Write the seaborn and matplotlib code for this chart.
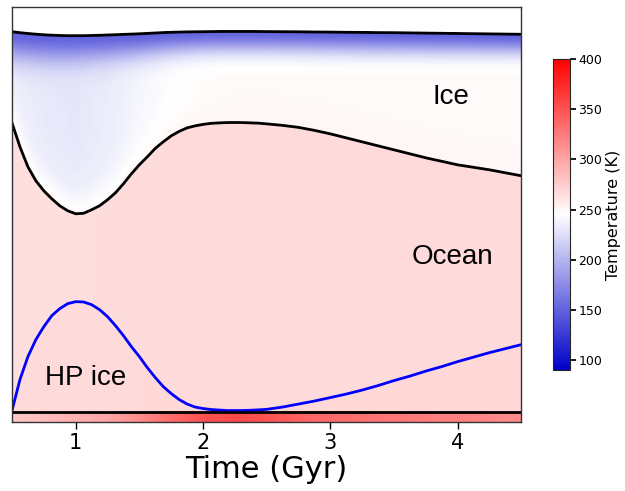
import numpy as np
import matplotlib
matplotlib.use("Agg")
import matplotlib.pyplot as plt
from matplotlib.colors import LinearSegmentedColormap
import seaborn as sns

# ---- boundaries (km, height above lower axis edge) ----
time = [0.5, 0.5625, 0.625, 0.6875, 0.75, 0.8125, 0.875, 0.9375, 1.0, 1.0625,
        1.125, 1.1875, 1.25, 1.3125, 1.375, 1.4375, 1.5, 1.5625, 1.625, 1.6875,
        1.75, 1.8125, 1.875, 1.9375, 2.0, 2.0625, 2.125, 2.1875, 2.25, 2.3125,
        2.375, 2.4375, 2.5,
        2.625, 2.75, 2.875, 3.0, 3.125, 3.25, 3.375, 3.5, 3.625, 3.75, 3.875,
        4.0, 4.125, 4.25, 4.375, 4.5]
surface_km = [780.6, 778.6, 777, 775.6, 774.4, 773.6, 773, 772.6, 772.6, 772.6,
              773, 773.4, 774, 774.6, 775.2, 775.8, 776.4, 777.2, 778, 778.8,
              779.4, 779.8, 780.2, 780.4, 780.6, 780.8, 781, 781, 781, 781,
              781, 781, 780.8,
              780.6, 780.4, 780, 779.8, 779.4, 779.2, 778.8, 778.6, 778.2, 777.8, 777.4,
              777, 776.6, 776.2, 775.8, 775.4]
ice_base_km = [598, 550, 510, 482, 462, 446, 432, 422, 416, 417,
               424, 432, 444, 458, 476, 496, 514, 530, 547, 560,
               572, 581, 588, 592, 595, 597, 598, 598.6, 598.8, 598.6,
               598, 597.4, 596,
               593, 589, 583, 576, 568, 560, 552, 544, 536, 528, 521,
               514, 509, 504, 498, 492]
hp_top_km = [22, 84, 130, 164, 190, 212, 226, 236, 240, 239.4,
             234, 224, 210, 192, 172, 150, 130, 108, 88, 70,
             56, 44, 35, 29, 26, 24, 23, 22, 22, 22,
             22.6, 23.4, 24.4,
             29, 35, 41, 48, 55, 63, 72, 82, 91, 101, 110,
             120, 129, 138, 146, 154]
seafloor_km = [20] * len(time)

# ---- temperatures (K) ----
t_temp = [0.5, 0.75, 1.0, 1.25, 1.5, 1.75, 2.0, 2.25, 2.5, 2.75, 3.0, 3.5, 4.0, 4.5]
T_surface = [150, 150, 150, 150, 150, 150, 150, 150, 150, 150, 150, 150, 150, 150]
T_ice = [235, 231, 230, 233, 239, 244, 247, 248, 248, 248, 248, 248, 248, 248]
lid_km = [54, 52, 50, 48, 45, 42, 40, 40, 40, 40, 40, 40, 39, 38]
T_ocean = [265, 265, 265, 266, 266, 267, 267, 267, 267, 267, 267, 267, 267, 267]
T_rock = [278, 285, 292, 300, 315, 335, 350, 356, 350, 340, 335, 327, 321, 315]
T_melt = 251

sns.set_theme(style="ticks")
plt.rcParams['font.family'] = ['DejaVu Sans']
plt.rcParams['text.color'] = 'black'
plt.rcParams['axes.labelcolor'] = 'black'
plt.rcParams['xtick.color'] = 'black'
plt.rcParams['ytick.color'] = 'black'

cmap = LinearSegmentedColormap.from_list("bwr_soft", ["#0000c8", "#ffffff", "#ff0000"])

fig = plt.figure(figsize=(6.25, 4.91), dpi=100)
ax = fig.add_axes([0.0192, 0.1415, 0.815, 0.8442])
cax = fig.add_axes([0.885, 0.2464, 0.027, 0.6334])

# build temperature field from the boundaries and temperatures above
tg = np.linspace(0.5, 4.5, 401)
yg = np.linspace(0, 830, 831)
TT, YY = np.meshgrid(tg, yg)
surf = np.interp(tg, time, surface_km)[None, :]
ibase = np.interp(tg, time, ice_base_km)[None, :]
hptop = np.interp(tg, time, hp_top_km)[None, :]
sfloor = np.interp(tg, time, seafloor_km)[None, :]
Ts = np.interp(tg, t_temp, T_surface)[None, :]
Ti = np.interp(tg, t_temp, T_ice)[None, :]
L = np.interp(tg, t_temp, lid_km)[None, :]
To = np.interp(tg, t_temp, T_ocean)[None, :]
Tr = np.interp(tg, t_temp, T_rock)[None, :]

field = np.full(TT.shape, np.nan)
d = surf - YY
h = YY - ibase
Tice = Ti - (Ti - Ts) * np.exp(-(d / L) ** 2)
Tice = Tice + (T_melt - Tice) * np.exp(-np.clip(h, 0, None) / 40.0)
field = np.where((YY <= surf + 2) & (YY > ibase), Tice, field)
field = np.where((YY <= ibase) & (YY > hptop), np.broadcast_to(To, TT.shape), field)
field = np.where((YY <= hptop) & (YY > sfloor), np.broadcast_to(To + 2, TT.shape), field)
field = np.where(YY <= sfloor, np.broadcast_to(Tr, TT.shape), field)

mesh = ax.pcolormesh(tg, yg, field, cmap=cmap, vmin=90, vmax=400,
                     shading="auto", rasterized=True)

sns.lineplot(x=time, y=surface_km, color="black", lw=2, ax=ax)
sns.lineplot(x=time, y=ice_base_km, color="black", lw=2, ax=ax)
sns.lineplot(x=time, y=hp_top_km, color="blue", lw=2, ax=ax)
sns.lineplot(x=time, y=seafloor_km, color="black", lw=2, ax=ax)

ax.set_xlim(0.5, 4.5)
ax.set_ylim(0, 830)
ax.set_yticks([])
ax.set_xticks([1, 2, 3, 4])
ax.tick_params(axis="x", labelsize=15, length=5, width=1, pad=3, colors="black")
ax.set_xlabel("Time (Gyr)", fontsize=22, labelpad=2, color="black")
for s in ax.spines.values():
    s.set_color("#333333")
    s.set_linewidth(1)

lab = dict(fontsize=20, family=["Liberation Sans", "DejaVu Sans"], ha="center",
           va="center", color="black")
ax.text(3.95, 650, "Ice", **lab)
ax.text(3.96, 330, "Ocean", **lab)
ax.text(1.08, 88, "HP ice", **lab)

cb = fig.colorbar(mesh, cax=cax, ticks=[100, 150, 200, 250, 300, 350, 400])
cb.ax.tick_params(labelsize=9, length=4, pad=2, colors="black")
cb.set_label("Temperature (K)", fontsize=11.5, labelpad=3, color="black")
cb.outline.set_linewidth(0.8)

fig.savefig("out.png", dpi=100)
